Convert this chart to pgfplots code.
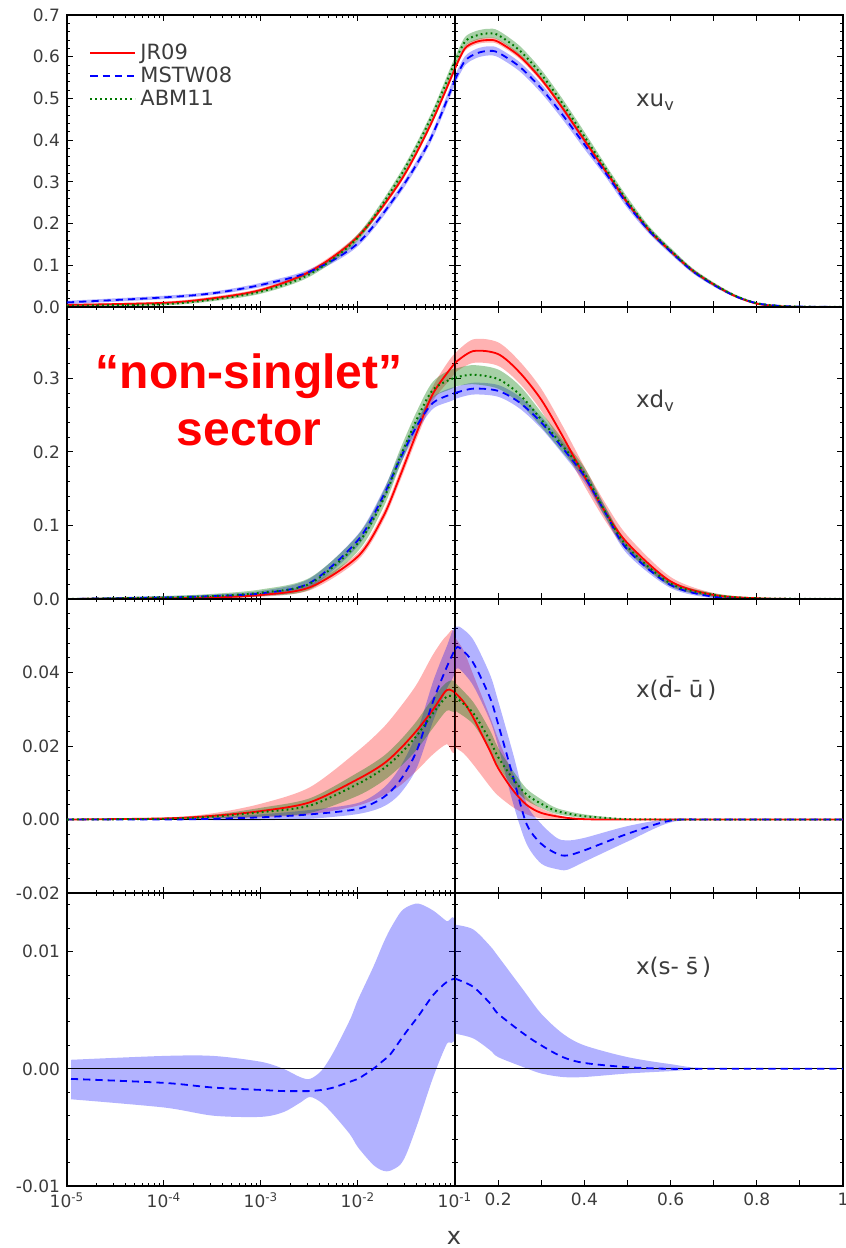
\documentclass[border=0pt]{standalone}
\usepackage{fontspec}
\setmainfont{DejaVu Sans}
\newfontfamily\annfont{Liberation Sans}
\usepackage{pgfplots}
\pgfplotsset{compat=1.18}
\definecolor{jr}{RGB}{255,0,0}
\definecolor{ms}{RGB}{0,0,255}
\definecolor{abm}{RGB}{0,120,0}
\definecolor{txt}{RGB}{60,60,60}

\pgfplotsset{
  jrband/.style={fill=jr, fill opacity=0.3, draw=none, smooth, forget plot},
  msband/.style={fill=ms, fill opacity=0.3, draw=none, smooth, forget plot},
  abband/.style={fill=abm, fill opacity=0.35, draw=none, smooth, forget plot},
  jrline/.style={jr, line width=0.9pt, smooth},
  msline/.style={ms, line width=0.9pt, dash pattern=on 3.6pt off 2.5pt, smooth},
  abline/.style={abm, line width=1pt, dash pattern=on 0.9pt off 1.6pt, smooth},
  zline/.style={black, line width=0.5pt, forget plot},
  myBase/.style={scale only axis, width=194pt, anchor=south west,
    scaled ticks=false,
    axis line style={line width=0.9pt}, tick style={black, line width=0.5pt},
    major tick length=3pt, minor tick length=1.6pt,
    tick align=inside, xtick pos=both, ytick pos=both,
    ticklabel style={font=\fontsize{8.5}{10}\selectfont, text=txt}},
  myLft/.style={myBase, xmin=1e-5, xmax=0.1,
    xtick={1e-5,1e-4,1e-3,1e-2,1e-1},
    minor xtick={2e-5,3e-5,4e-5,5e-5,6e-5,7e-5,8e-5,9e-5,2e-4,3e-4,4e-4,5e-4,6e-4,7e-4,8e-4,9e-4,2e-3,3e-3,4e-3,5e-3,6e-3,7e-3,8e-3,9e-3,2e-2,3e-2,4e-2,5e-2,6e-2,7e-2,8e-2,9e-2},
    xticklabels={}, yticklabel pos=left},
  myRgt/.style={myBase, xmin=0.1, xmax=1,
    xtick={0.1,0.2,0.3,0.4,0.5,0.6,0.7,0.8,0.9,1},
    xticklabels={}, yticklabels={}},
  myPA/.style={height=146pt, ymin=0, ymax=0.7, ytick={0,0.1,0.2,0.3,0.4,0.5,0.6,0.7},
    minor ytick={0.02,0.04,0.06,0.08,0.12,0.14,0.16,0.18,0.22,0.24,0.26,0.28,0.32,0.34,0.36,0.38,0.42,0.44,0.46,0.48,0.52,0.54,0.56,0.58,0.62,0.64,0.66,0.68}},
  myPB/.style={height=146pt, ymin=0, ymax=0.397, ytick={0,0.1,0.2,0.3},
    minor ytick={0.02,0.04,0.06,0.08,0.12,0.14,0.16,0.18,0.22,0.24,0.26,0.28,0.32,0.34,0.36,0.38}},
  myPC/.style={height=147pt, ymin=-0.02, ymax=0.06, ytick={-0.02,0,0.02,0.04,0.06},
    minor ytick={-0.016,-0.012,-0.008,-0.004,0.004,0.008,0.012,0.016,0.024,0.028,0.032,0.036,0.044,0.048,0.052,0.056}},
  myPD/.style={height=146.5pt, ymin=-0.01, ymax=0.015, ytick={-0.01,0,0.01},
    minor ytick={-0.008,-0.006,-0.004,-0.002,0.002,0.004,0.006,0.008,0.012,0.014}},
}

\begin{document}
\begin{tikzpicture}
\useasboundingbox (0,0) rectangle (423pt,-624pt);

% ===== Panel A : x u_v =====
\begin{axis}[xmode=log, myLft, myPA, at={(33.5pt,-153.5pt)},
  yticklabels={0.0,0.1,0.2,0.3,0.4,0.5,0.6,0.7},
  legend style={at={(0,1)}, anchor=north west, xshift=8pt, yshift=-10pt,
    draw=none, fill=none, font=\fontsize{10.5}{11}\selectfont, text=txt, row sep=-1.6pt},
  legend cell align=left,
  legend image code/.code={\draw[#1] (0pt,0pt) -- (22.5pt,0pt);}]
\addplot[jrband] coordinates {(1e-5,0.007)(1e-4,0.013)(3.2e-4,0.025)(1e-3,0.045)(3.2e-3,0.090)(1e-2,0.175)(2.71e-2,0.306)(5.52e-2,0.440)(1e-1,0.578)
 (1e-1,0.566)(5.52e-2,0.428)(2.71e-2,0.294)(1e-2,0.163)(3.2e-3,0.080)(1e-3,0.037)(3.2e-4,0.017)(1e-4,0.007)(1e-5,0.003)} -- cycle;
\addplot[msband] coordinates {(1e-5,0.015)(1e-4,0.027)(3.2e-4,0.037)(1e-3,0.058)(3.2e-3,0.091)(1e-2,0.160)(2.71e-2,0.288)(5.52e-2,0.409)(1e-1,0.556)
 (1e-1,0.534)(5.52e-2,0.391)(2.71e-2,0.272)(1e-2,0.146)(3.2e-3,0.079)(1e-3,0.048)(3.2e-4,0.029)(1e-4,0.019)(1e-5,0.007)} -- cycle;
\addplot[abband] coordinates {(1e-5,0.005)(1e-4,0.010)(3.2e-4,0.022)(1e-3,0.042)(3.2e-3,0.085)(1e-2,0.175)(2.71e-2,0.321)(5.52e-2,0.458)(1e-1,0.599)
 (1e-1,0.577)(5.52e-2,0.438)(2.71e-2,0.303)(1e-2,0.159)(3.2e-3,0.073)(1e-3,0.032)(3.2e-4,0.014)(1e-4,0.004)(1e-5,0.001)} -- cycle;
\addplot[jrline] coordinates {(1e-5,0.005)(1e-4,0.010)(3.2e-4,0.021)(1e-3,0.041)(3.2e-3,0.085)(1e-2,0.169)(2.71e-2,0.300)(5.52e-2,0.434)(1e-1,0.572)};
\addplot[msline] coordinates {(1e-5,0.011)(1e-4,0.023)(3.2e-4,0.033)(1e-3,0.053)(3.2e-3,0.085)(1e-2,0.153)(2.71e-2,0.280)(5.52e-2,0.400)(1e-1,0.545)};
\addplot[abline] coordinates {(1e-5,0.003)(1e-4,0.007)(3.2e-4,0.018)(1e-3,0.037)(3.2e-3,0.079)(1e-2,0.167)(2.71e-2,0.312)(5.52e-2,0.448)(1e-1,0.588)};
\legend{JR09,MSTW08,ABM11}
\end{axis}
\begin{axis}[myRgt, myPA, at={(227.5pt,-153.5pt)}]
\addplot[jrband] coordinates {(0.1,0.578)(0.123,0.626)(0.15,0.642)(0.177,0.646)(0.2,0.642)(0.25,0.607)(0.3,0.552)(0.35,0.482)(0.4,0.406)(0.45,0.331)(0.5,0.256)(0.55,0.189)(0.6,0.138)(0.65,0.092)(0.7,0.057)(0.75,0.028)(0.8,0.010)(0.85,0.003)(0.9,0.001)(1,0)
 (0.9,0)(0.85,0.001)(0.8,0.006)(0.75,0.024)(0.7,0.051)(0.65,0.084)(0.6,0.130)(0.55,0.179)(0.5,0.244)(0.45,0.319)(0.4,0.394)(0.35,0.470)(0.3,0.540)(0.25,0.595)(0.2,0.630)(0.177,0.634)(0.15,0.630)(0.123,0.614)(0.1,0.566)} -- cycle;
\addplot[msband] coordinates {(0.1,0.556)(0.123,0.601)(0.15,0.619)(0.177,0.625)(0.2,0.621)(0.25,0.587)(0.3,0.535)(0.35,0.471)(0.4,0.401)(0.45,0.329)(0.5,0.255)(0.55,0.190)(0.6,0.139)(0.65,0.092)(0.7,0.057)(0.75,0.029)(0.8,0.011)(0.85,0.004)(0.9,0.002)(1,0)
 (0.9,0)(0.85,0.002)(0.8,0.007)(0.75,0.023)(0.7,0.049)(0.65,0.082)(0.6,0.127)(0.55,0.176)(0.5,0.237)(0.45,0.311)(0.4,0.379)(0.35,0.449)(0.3,0.513)(0.25,0.565)(0.2,0.599)(0.177,0.603)(0.15,0.597)(0.123,0.579)(0.1,0.534)} -- cycle;
\addplot[abband] coordinates {(0.1,0.599)(0.123,0.647)(0.15,0.662)(0.177,0.667)(0.2,0.663)(0.25,0.626)(0.3,0.569)(0.35,0.498)(0.4,0.420)(0.45,0.340)(0.5,0.263)(0.55,0.194)(0.6,0.142)(0.65,0.094)(0.7,0.059)(0.75,0.030)(0.8,0.011)(0.85,0.004)(0.9,0.002)(1,0)
 (0.9,0)(0.85,0.002)(0.8,0.007)(0.75,0.024)(0.7,0.051)(0.65,0.084)(0.6,0.130)(0.55,0.180)(0.5,0.245)(0.45,0.322)(0.4,0.398)(0.35,0.476)(0.3,0.547)(0.25,0.604)(0.2,0.641)(0.177,0.645)(0.15,0.640)(0.123,0.625)(0.1,0.577)} -- cycle;
\addplot[jrline] coordinates {(0.1,0.572)(0.123,0.620)(0.15,0.636)(0.177,0.640)(0.2,0.636)(0.25,0.601)(0.3,0.546)(0.35,0.476)(0.4,0.400)(0.45,0.325)(0.5,0.250)(0.55,0.184)(0.6,0.134)(0.65,0.088)(0.7,0.054)(0.75,0.026)(0.8,0.008)(0.85,0.002)(0.9,0)(1,0)};
\addplot[msline] coordinates {(0.1,0.545)(0.123,0.590)(0.15,0.608)(0.177,0.614)(0.2,0.610)(0.25,0.576)(0.3,0.524)(0.35,0.460)(0.4,0.390)(0.45,0.320)(0.5,0.246)(0.55,0.183)(0.6,0.133)(0.65,0.087)(0.7,0.053)(0.75,0.026)(0.8,0.009)(0.85,0.003)(0.9,0.001)(1,0)};
\addplot[abline] coordinates {(0.1,0.588)(0.123,0.636)(0.15,0.651)(0.177,0.656)(0.2,0.652)(0.25,0.615)(0.3,0.558)(0.35,0.487)(0.4,0.409)(0.45,0.331)(0.5,0.254)(0.55,0.187)(0.6,0.136)(0.65,0.089)(0.7,0.055)(0.75,0.027)(0.8,0.009)(0.85,0.003)(0.9,0.001)(1,0)};
\end{axis}

% ===== Panel B : x d_v =====
\begin{axis}[xmode=log, myLft, myPB, at={(33.5pt,-299.5pt)}, yticklabels={0.0,0.1,0.2,0.3}]
\addplot[jrband] coordinates {(1e-5,0.0005)(1e-4,0.002)(3.2e-4,0.003)(1e-3,0.008)(3.2e-3,0.020)(1e-2,0.063)(1.82e-2,0.118)(2.71e-2,0.174)(4.03e-2,0.234)(5.97e-2,0.290)(1e-1,0.334)
 (1e-1,0.308)(5.97e-2,0.270)(4.03e-2,0.218)(2.71e-2,0.160)(1.82e-2,0.106)(1e-2,0.053)(3.2e-3,0.012)(1e-3,0.003)(3.2e-4,0.001)(1e-4,0)(1e-5,0)} -- cycle;
\addplot[msband] coordinates {(1e-5,0.001)(1e-4,0.004)(3.2e-4,0.006)(1e-3,0.011)(3.2e-3,0.028)(1e-2,0.088)(1.82e-2,0.148)(2.71e-2,0.198)(4.03e-2,0.243)(5.97e-2,0.275)(1e-1,0.288)
 (1e-1,0.272)(5.97e-2,0.259)(4.03e-2,0.227)(2.71e-2,0.182)(1.82e-2,0.132)(1e-2,0.072)(3.2e-3,0.016)(1e-3,0.004)(3.2e-4,0.002)(1e-4,0)(1e-5,0)} -- cycle;
\addplot[abband] coordinates {(1e-5,0.001)(1e-4,0.004)(3.2e-4,0.007)(1e-3,0.013)(3.2e-3,0.029)(1e-2,0.087)(1.82e-2,0.146)(2.71e-2,0.203)(4.03e-2,0.255)(5.97e-2,0.296)(1e-1,0.313)
 (1e-1,0.289)(5.97e-2,0.274)(4.03e-2,0.233)(2.71e-2,0.181)(1.82e-2,0.124)(1e-2,0.065)(3.2e-3,0.013)(1e-3,0.004)(3.2e-4,0.001)(1e-4,0)(1e-5,0)} -- cycle;
\addplot[jrline] coordinates {(1e-5,0)(1e-4,0.001)(3.2e-4,0.002)(1e-3,0.0055)(3.2e-3,0.016)(1e-2,0.058)(1.82e-2,0.112)(2.71e-2,0.167)(4.03e-2,0.226)(5.97e-2,0.280)(1e-1,0.321)};
\addplot[msline] coordinates {(1e-5,0)(1e-4,0.002)(3.2e-4,0.004)(1e-3,0.0077)(3.2e-3,0.022)(1e-2,0.080)(1.82e-2,0.140)(2.71e-2,0.190)(4.03e-2,0.235)(5.97e-2,0.267)(1e-1,0.280)};
\addplot[abline] coordinates {(1e-5,0)(1e-4,0.002)(3.2e-4,0.004)(1e-3,0.0086)(3.2e-3,0.021)(1e-2,0.076)(1.82e-2,0.135)(2.71e-2,0.192)(4.03e-2,0.244)(5.97e-2,0.285)(1e-1,0.301)};
\end{axis}
\begin{axis}[myRgt, myPB, at={(227.5pt,-299.5pt)}]
\addplot[jrband] coordinates {(0.1,0.334)(0.142,0.353)(0.2,0.349)(0.25,0.323)(0.3,0.286)(0.35,0.235)(0.4,0.180)(0.45,0.129)(0.5,0.086)(0.6,0.030)(0.7,0.008)(0.8,0.002)(0.9,0.0005)(1,0)
 (0.9,0)(0.8,0)(0.7,0.003)(0.6,0.018)(0.5,0.066)(0.45,0.105)(0.4,0.154)(0.35,0.207)(0.3,0.256)(0.25,0.293)(0.2,0.317)(0.142,0.321)(0.1,0.308)} -- cycle;
\addplot[msband] coordinates {(0.1,0.288)(0.142,0.294)(0.2,0.291)(0.25,0.275)(0.3,0.248)(0.35,0.213)(0.4,0.175)(0.45,0.123)(0.5,0.073)(0.6,0.023)(0.7,0.005)(0.8,0.001)(1,0)
 (0.8,0)(0.7,0.001)(0.6,0.015)(0.5,0.061)(0.45,0.109)(0.4,0.159)(0.35,0.197)(0.3,0.232)(0.25,0.259)(0.2,0.275)(0.142,0.278)(0.1,0.272)} -- cycle;
\addplot[abband] coordinates {(0.1,0.313)(0.142,0.318)(0.2,0.312)(0.25,0.290)(0.3,0.254)(0.35,0.217)(0.4,0.179)(0.45,0.124)(0.5,0.077)(0.6,0.025)(0.7,0.008)(0.8,0.002)(1,0)
 (0.8,0)(0.7,0.003)(0.6,0.017)(0.5,0.065)(0.45,0.110)(0.4,0.163)(0.35,0.199)(0.3,0.234)(0.25,0.266)(0.2,0.286)(0.142,0.292)(0.1,0.289)} -- cycle;
\addplot[jrline] coordinates {(0.1,0.321)(0.142,0.337)(0.2,0.333)(0.25,0.308)(0.3,0.271)(0.35,0.221)(0.4,0.167)(0.45,0.117)(0.5,0.076)(0.6,0.024)(0.7,0.0055)(0.8,0.001)(0.9,0)(1,0)};
\addplot[msline] coordinates {(0.1,0.280)(0.142,0.286)(0.2,0.283)(0.25,0.267)(0.3,0.240)(0.35,0.205)(0.4,0.167)(0.45,0.116)(0.5,0.067)(0.6,0.019)(0.7,0.003)(0.8,0)(1,0)};
\addplot[abline] coordinates {(0.1,0.301)(0.142,0.305)(0.2,0.299)(0.25,0.278)(0.3,0.244)(0.35,0.208)(0.4,0.171)(0.45,0.117)(0.5,0.071)(0.6,0.021)(0.7,0.0055)(0.8,0.001)(1,0)};
\end{axis}

% ===== Panel C : x(dbar-ubar) =====
\begin{axis}[xmode=log, myLft, myPC, at={(33.5pt,-446.5pt)}, yticklabels={-0.02,0.00,0.02,0.04,}]
\addplot[jrband] coordinates {(1e-5,0)(1e-4,0.0005)(3.2e-4,0.0017)(1e-3,0.0043)(3.2e-3,0.0088)(1e-2,0.0187)(1.82e-2,0.0250)(2.71e-2,0.0305)(4.03e-2,0.0368)(5.97e-2,0.0450)(8.2e-2,0.0500)(1e-1,0.0495)
 (1e-1,0.0196)(8.2e-2,0.0205)(5.97e-2,0.0178)(4.03e-2,0.0133)(2.71e-2,0.0092)(1.82e-2,0.0065)(1e-2,0.0038)(3.2e-3,0.0014)(1e-3,0.0006)(3.2e-4,0.0003)(1e-4,0.0001)} -- cycle;
\addplot[msband] coordinates {(1e-5,0)(1e-4,0.0001)(3.2e-4,0.0006)(1e-3,0.0014)(3.2e-3,0.0026)(1e-2,0.0045)(1.82e-2,0.0085)(2.71e-2,0.0142)(4.03e-2,0.0235)(5.97e-2,0.0377)(8.2e-2,0.0470)(1e-1,0.0522)
 (1e-1,0.0405)(8.2e-2,0.0355)(5.97e-2,0.0269)(4.03e-2,0.0140)(2.71e-2,0.0070)(1.82e-2,0.0035)(1e-2,0.0015)(3.2e-3,0.0002)(1e-3,-0.0002)(3.2e-4,-0.0002)(1e-4,-0.0001)} -- cycle;
\addplot[abband] coordinates {(1e-5,0)(1e-4,0.0004)(3.2e-4,0.0013)(1e-3,0.0032)(3.2e-3,0.0058)(1e-2,0.0128)(1.82e-2,0.0172)(2.71e-2,0.0215)(4.03e-2,0.0268)(5.97e-2,0.0332)(8.2e-2,0.0373)(1e-1,0.0372)
 (1e-1,0.0296)(8.2e-2,0.0296)(5.97e-2,0.0250)(4.03e-2,0.0190)(2.71e-2,0.0143)(1.82e-2,0.0105)(1e-2,0.0065)(3.2e-3,0.0018)(1e-3,0.0008)(3.2e-4,0.0003)(1e-4,0)} -- cycle;
\addplot[zline] coordinates {(1e-5,0) (0.1,0)};
\addplot[jrline] coordinates {(1e-5,0)(1e-4,0.0003)(3.2e-4,0.0010)(1e-3,0.0023)(3.2e-3,0.0047)(1e-2,0.0110)(1.82e-2,0.0151)(2.71e-2,0.0192)(4.03e-2,0.0242)(5.97e-2,0.0300)(8.2e-2,0.0352)(1e-1,0.0345)};
\addplot[msline] coordinates {(1e-5,0)(1e-4,0)(3.2e-4,0.0002)(1e-3,0.0006)(3.2e-3,0.0014)(1e-2,0.0029)(1.82e-2,0.0060)(2.71e-2,0.0106)(4.03e-2,0.0187)(5.97e-2,0.0323)(8.2e-2,0.0414)(1e-1,0.0463)};
\addplot[abline] coordinates {(1e-5,0)(1e-4,0.0002)(3.2e-4,0.0008)(1e-3,0.0020)(3.2e-3,0.0038)(1e-2,0.0097)(1.82e-2,0.0138)(2.71e-2,0.0178)(4.03e-2,0.0228)(5.97e-2,0.0290)(8.2e-2,0.0334)(1e-1,0.0334)};
\end{axis}
\begin{axis}[myRgt, myPC, at={(227.5pt,-446.5pt)}]
\addplot[jrband] coordinates {(0.1,0.0495)(0.12,0.0460)(0.142,0.0395)(0.181,0.0280)(0.2,0.0220)(0.235,0.0124)(0.266,0.0062)(0.3,0.0030)(0.35,0.0009)(0.4,0.0002)(0.5,0)(1,0)
 (0.5,0)(0.4,0)(0.35,0)(0.3,0.0003)(0.266,0.0014)(0.235,0.0033)(0.2,0.0065)(0.181,0.0090)(0.142,0.0150)(0.12,0.0180)(0.1,0.0196)} -- cycle;
\addplot[msband] coordinates {(0.1,0.0522)(0.11,0.0525)(0.142,0.0490)(0.181,0.0395)(0.2,0.0323)(0.235,0.0178)(0.266,0.0043)(0.3,-0.0012)(0.336,-0.0050)(0.36,-0.0057)(0.4,-0.0050)(0.5,-0.0018)(0.6,0.0002)(0.7,0)(1,0)
 (0.7,0)(0.6,-0.0008)(0.5,-0.0060)(0.4,-0.0115)(0.36,-0.0137)(0.336,-0.0135)(0.3,-0.0120)(0.266,-0.0066)(0.235,0.0043)(0.2,0.0200)(0.181,0.0270)(0.142,0.0365)(0.11,0.0410)(0.1,0.0405)} -- cycle;
\addplot[abband] coordinates {(0.1,0.0372)(0.142,0.0320)(0.181,0.0243)(0.2,0.0195)(0.235,0.0132)(0.266,0.0084)(0.3,0.0055)(0.336,0.0031)(0.4,0.0014)(0.5,0.0002)(0.6,0)(1,0)
 (0.6,0)(0.5,0)(0.4,0.0004)(0.336,0.0015)(0.3,0.0031)(0.266,0.0052)(0.235,0.0088)(0.2,0.0145)(0.181,0.0187)(0.142,0.0260)(0.1,0.0296)} -- cycle;
\addplot[zline] coordinates {(0.1,0) (1,0)};
\addplot[jrline] coordinates {(0.1,0.0345)(0.12,0.0320)(0.142,0.0278)(0.181,0.0187)(0.2,0.0140)(0.235,0.0079)(0.266,0.0040)(0.3,0.0018)(0.35,0.0006)(0.4,0.0001)(0.5,0)(1,0)};
\addplot[msline] coordinates {(0.1,0.0463)(0.11,0.0468)(0.142,0.0427)(0.181,0.0332)(0.2,0.0260)(0.235,0.0115)(0.266,-0.0012)(0.3,-0.0066)(0.336,-0.0093)(0.36,-0.0098)(0.4,-0.0084)(0.5,-0.0039)(0.6,-0.0003)(0.7,0)(1,0)};
\addplot[abline] coordinates {(0.1,0.0334)(0.142,0.0290)(0.181,0.0215)(0.2,0.0170)(0.235,0.0110)(0.266,0.0068)(0.3,0.0043)(0.336,0.0023)(0.4,0.0009)(0.5,0.0001)(0.6,0)(1,0)};
\end{axis}

% ===== Panel D : x(s-sbar) =====
\begin{axis}[xmode=log, myLft, myPD, at={(33.5pt,-593pt)}, yticklabels={-0.01,0.00,0.01},
  xticklabels={10\textsuperscript{-5},10\textsuperscript{-4},10\textsuperscript{-3},10\textsuperscript{-2},10\textsuperscript{-1}}]
\addplot[msband] coordinates {(1.1e-5,0.00077)(1e-4,0.0011)(3.22e-4,0.0011)(1e-3,0.0006)(1.70e-3,0.0000)(2.52e-3,-0.0007)(3.2e-3,-0.00086)(4.22e-3,-0.00014)(5.57e-3,0.0014)(8.28e-3,0.0042)(1e-2,0.0059)(1.439e-2,0.0087)(1.82e-2,0.0107)(2.14e-2,0.0119)(2.71e-2,0.0133)(3.18e-2,0.0138)(4.19e-2,0.0141)(5.97e-2,0.0135)(8.2e-2,0.0126)(1e-1,0.0123)
 (1e-1,0.0030)(8.2e-2,0.0021)(5.97e-2,-0.0007)(4.19e-2,-0.0045)(3.18e-2,-0.0072)(2.71e-2,-0.0082)(2.14e-2,-0.0087)(1.82e-2,-0.0087)(1.439e-2,-0.0082)(1e-2,-0.0067)(8.28e-3,-0.0056)(5.57e-3,-0.0039)(4.22e-3,-0.0029)(3.2e-3,-0.0024)(2.52e-3,-0.0029)(1.70e-3,-0.0037)(1e-3,-0.0041)(3.22e-4,-0.0040)(1e-4,-0.0033)(1.1e-5,-0.0026)} -- cycle;
\addplot[zline] coordinates {(1e-5,0) (0.1,0)};
\addplot[msline] coordinates {(1.1e-5,-0.00086)(1e-4,-0.0012)(3.22e-4,-0.0016)(1e-3,-0.0018)(1.70e-3,-0.0019)(2.52e-3,-0.0019)(3.2e-3,-0.0019)(4.22e-3,-0.0018)(5.57e-3,-0.0016)(8.28e-3,-0.0011)(1e-2,-0.00086)(1.439e-2,0.0000)(1.82e-2,0.0007)(2.14e-2,0.0012)(2.71e-2,0.0024)(3.18e-2,0.0032)(4.19e-2,0.0045)(5.97e-2,0.0063)(8.2e-2,0.0074)(1e-1,0.0077)};
\end{axis}
\begin{axis}[myRgt, myPD, at={(227.5pt,-593pt)},
  xticklabels={,0.2,,0.4,,0.6,,0.8,,1}]
\addplot[msband] coordinates {(0.1,0.0123)(0.142,0.0119)(0.181,0.0105)(0.2,0.0096)(0.259,0.0067)(0.3,0.0047)(0.35,0.0030)(0.4,0.0020)(0.5,0.0010)(0.6,0.0004)(0.7,0)(1,0)
 (0.7,0)(0.6,-0.0002)(0.5,-0.0004)(0.4,-0.0007)(0.35,-0.0007)(0.3,-0.0004)(0.259,0.00014)(0.2,0.0010)(0.181,0.0016)(0.142,0.0026)(0.1,0.0030)} -- cycle;
\addplot[zline] coordinates {(0.1,0) (1,0)};
\addplot[msline] coordinates {(0.1,0.0077)(0.142,0.0070)(0.181,0.0056)(0.2,0.0047)(0.259,0.0030)(0.3,0.0020)(0.35,0.0010)(0.4,0.0005)(0.5,0.00014)(0.6,0)(0.7,0)(1,0)};
\end{axis}

% ===== texts =====
\node[anchor=base west, text=txt, font=\fontsize{11.5}{13}\selectfont] at (314.5pt,-53.3pt) {xu\textsubscript{v}};
\node[anchor=base west, text=txt, font=\fontsize{11.5}{13}\selectfont] at (314.5pt,-203.7pt) {xd\textsubscript{v}};
\node[anchor=base west, text=txt, font=\fontsize{11.5}{13}\selectfont] at (314.5pt,-348.7pt) {x(d̄- ū\,)};
\node[anchor=base west, text=txt, font=\fontsize{11.5}{13}\selectfont] at (314.5pt,-487pt) {x(s- s̄\,)};
\node[anchor=base, inner sep=0pt, text=txt, font=\fontsize{12}{14}\selectfont] at (227pt,-622pt) {x};
\node[anchor=base, text=red, font=\annfont\bfseries\fontsize{24}{28}\selectfont] at (124.5pt,-194pt) {“non-singlet”};
\node[anchor=base, text=red, font=\annfont\bfseries\fontsize{24}{28}\selectfont] at (124.5pt,-222.5pt) {sector};
\end{tikzpicture}
\end{document}
